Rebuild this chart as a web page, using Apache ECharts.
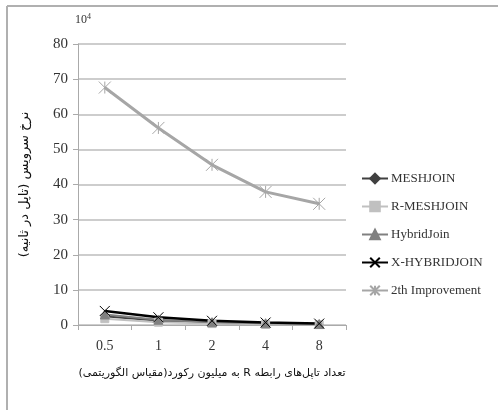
<!DOCTYPE html>
<html>
<head>
<meta charset="utf-8">
<script src="https://cdn.jsdelivr.net/npm/echarts@6/dist/echarts.min.js"></script>
<style>
  html, body { margin: 0; padding: 0; background: #fff; }
  #main { width: 498px; height: 410px; }
</style>
</head>
<body>
<div id="main"></div>
<script>
  // داده‌ها (مقادیر بر حسب 10^4)
  const categories = ['0.5', '1', '2', '4', '8'];
  const meshjoin = [2.5, 1.2, 0.6, 0.3, 0.2];
  const rMeshjoin = [1.8, 0.8, 0.4, 0.2, 0.1];
  const hybridJoin = [3.0, 1.5, 0.8, 0.5, 0.3];
  const xHybridJoin = [4.0, 2.2, 1.2, 0.7, 0.4];
  const improvement2 = [67.6, 56.1, 45.6, 37.9, 34.5];
  const yTicks = [0, 10, 20, 30, 40, 50, 60, 70, 80];

  const xPath = 'path://M0,0L10,10M10,0L0,10';
  const starPath = 'path://M0,0L10,10M10,0L0,10M5,0L5,10';

  const serif = '"Liberation Serif", "DejaVu Serif", serif';
  const fa = '"DejaVu Sans", "Noto Sans", sans-serif';

  // RLE ... PDF so the mixed Persian/Latin title is laid out right-to-left
  const xName = '\u202Bتعداد تاپل‌های رابطه R به میلیون رکورد(مقیاس الگوریتمی)\u202C';
  const yName = '\u202Bنرخ سرویس (تاپل در ثانیه)\u202C';

  const myChart = echarts.init(document.getElementById('main'));

  function mkSeries(name, data, color, symbol, size, width) {
    return {
      name: name,
      type: 'line',
      data: data,
      symbol: symbol,
      symbolSize: size,
      showSymbol: true,
      lineStyle: { color: color, width: width },
      itemStyle: { color: color, borderColor: color, borderWidth: 1 },
      z: 3
    };
  }

  const option = {
    backgroundColor: '#fff',
    animation: false,
    textStyle: { fontFamily: serif },
    graphic: [
      { type: 'line', shape: { x1: 7, y1: 6, x2: 498, y2: 6 }, style: { stroke: '#b0b0b0', lineWidth: 2 } },
      { type: 'line', shape: { x1: 7, y1: 6, x2: 7, y2: 410 }, style: { stroke: '#b0b0b0', lineWidth: 2 } },
      {
        type: 'text', left: 75, top: 13,
        style: {
          text: '{b|10}{s|4}',
          rich: {
            b: { fontSize: 12, fontFamily: serif, fill: '#333' },
            s: { fontSize: 8, fontFamily: serif, fill: '#333', verticalAlign: 'top', padding: [0, 0, 6, 0] }
          }
        }
      }
    ],
    grid: { left: 78, right: 152, top: 44, bottom: 85 },
    legend: {
      orient: 'vertical',
      left: 356,
      top: 167,
      itemWidth: 26,
      itemHeight: 12,
      itemGap: 15,
      textStyle: { fontFamily: serif, fontSize: 13, color: '#333', padding: [0, 0, 0, -2] },
      data: ['MESHJOIN', 'R-MESHJOIN', 'HybridJoin', 'X-HYBRIDJOIN', '2th Improvement']
    },
    xAxis: {
      type: 'category',
      data: categories,
      boundaryGap: true,
      name: xName,
      nameLocation: 'middle',
      nameGap: 43,
      nameTextStyle: { fontFamily: fa, fontSize: 11, color: '#111' },
      axisLine: { lineStyle: { color: '#aaa', width: 1 } },
      axisTick: { show: true, length: 5, lineStyle: { color: '#aaa' } },
      axisLabel: { fontFamily: serif, fontSize: 14, color: '#333', margin: 14 }
    },
    yAxis: {
      type: 'value',
      min: 0,
      max: 80,
      interval: 10,
      name: yName,
      nameLocation: 'middle',
      nameRotate: 90,
      nameGap: 47,
      nameTextStyle: { fontFamily: fa, fontSize: 13, color: '#111' },
      axisLine: { show: true, lineStyle: { color: '#aaa', width: 1 } },
      axisTick: { show: true, length: 5, lineStyle: { color: '#aaa' } },
      axisLabel: {
        fontFamily: serif, fontSize: 15, color: '#333', margin: 10,
        formatter: function (v) { return yTicks.indexOf(v) >= 0 ? String(v) : ''; }
      },
      splitLine: { show: true, lineStyle: { color: '#bdbdbd', width: 1.5 } }
    },
    series: [
      mkSeries('MESHJOIN', meshjoin, '#404040', 'diamond', 8, 2),
      mkSeries('R-MESHJOIN', rMeshjoin, '#c0c0c0', 'rect', 8, 2),
      mkSeries('HybridJoin', hybridJoin, '#808080', 'triangle', 9, 2),
      mkSeries('X-HYBRIDJOIN', xHybridJoin, '#000000', xPath, 10, 2.5),
      mkSeries('2th Improvement', improvement2, '#a6a6a6', starPath, 12, 3)
    ]
  };

  myChart.setOption(option);
  window.addEventListener('resize', () => { myChart.resize(); });
</script>
</body>
</html>
